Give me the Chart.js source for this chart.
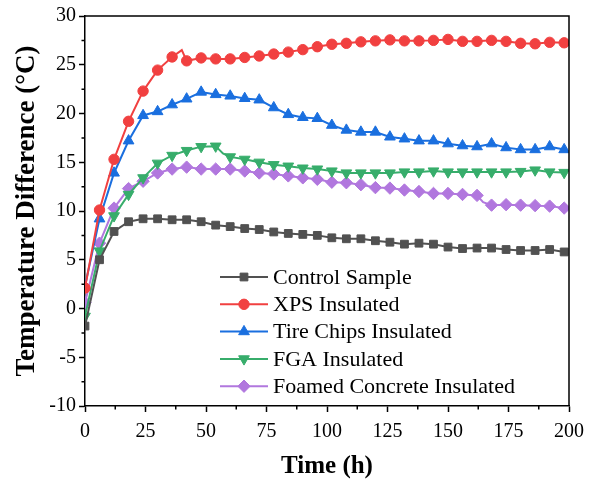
<!DOCTYPE html>
<html>
<head>
<meta charset="utf-8">
<script src="https://cdn.jsdelivr.net/npm/chart.js@4.4.0/dist/chart.umd.min.js"></script>
<style>
  html, body { margin: 0; padding: 0; background: #fff; }
</style>
</head>
<body>
<canvas id="chart" width="589" height="483"></canvas>
<script>
// time axis (h), a marker every 6 h
const hours = [0, 6, 12, 18, 24, 30, 36, 42, 48, 54, 60, 66, 72, 78, 84, 90, 96,
  102, 108, 114, 120, 126, 132, 138, 144, 150, 156, 162, 168, 174, 180, 186, 192, 198]

const control = [-1.8, 5.0, 7.9, 8.9, 9.2, 9.2, 9.1, 9.1, 8.9, 8.55, 8.4, 8.2, 8.1, 7.85, 7.7, 7.6, 7.5,
  7.25, 7.15, 7.15, 6.95, 6.8, 6.6, 6.7, 6.6, 6.3, 6.15, 6.2, 6.2, 6.05, 5.95, 5.95, 6.05, 5.8]
const xps = [2.1, 10.1, 15.3, 19.2, 22.3, 24.45, 25.8, 25.4, 25.7, 25.6, 25.6, 25.75, 25.9, 26.1, 26.3, 26.55, 26.85,
  27.1, 27.2, 27.35, 27.45, 27.55, 27.45, 27.45, 27.5, 27.6, 27.4, 27.4, 27.5, 27.4, 27.2, 27.15, 27.3, 27.25]
const tireChips = [2.3, 9.2, 13.9, 17.2, 19.8, 20.2, 20.9, 21.5, 22.2, 21.95, 21.8, 21.55, 21.4, 20.6, 19.9, 19.6, 19.5,
  18.8, 18.3, 18.1, 18.1, 17.6, 17.4, 17.2, 17.2, 16.9, 16.7, 16.6, 16.9, 16.5, 16.3, 16.3, 16.6, 16.3]
const fga = [-0.8, 5.9, 9.5, 11.7, 13.4, 14.9, 15.7, 16.2, 16.6, 16.65, 15.55, 15.3, 15.0, 14.75, 14.6, 14.4, 14.3,
  14.1, 13.9, 13.9, 13.9, 13.9, 14.0, 14.0, 14.1, 14.0, 14.0, 14.0, 14.0, 14.0, 14.05, 14.2, 14.0, 13.95]
const foamed = [0.6, 6.7, 10.3, 12.3, 13.05, 13.9, 14.3, 14.5, 14.3, 14.3, 14.3, 14.1, 13.9, 13.8, 13.6, 13.4, 13.25,
  12.95, 12.9, 12.7, 12.4, 12.35, 12.15, 12.0, 11.8, 11.8, 11.7, 11.6, 10.6, 10.65, 10.6, 10.55, 10.5, 10.3]

// in-between readings with no marker (spike / drops on the curves)
const xpsExtraHours = [40]
const xpsExtraValues = [26.5]
const fgaExtraHours = [57]
const fgaExtraValues = [15.9]
const foamedExtraHours = [164.5]
const foamedExtraValues = [10.9]

const seriesNames = ["Control Sample", "XPS Insulated", "Tire Chips Insulated", "FGA Insulated", "Foamed Concrete Insulated"]
const seriesColors = ["#515151", "#F14040", "#1A6FDF", "#37AD6B", "#B177DE"]

const FONT = "'Liberation Serif', 'Times New Roman', serif"

function makePoints(values, extraHours, extraValues) {
    let pts = hours.map((h, i) => ({ x: h, y: values[i] }))
    for (let i = 0; i < (extraHours || []).length; i++) {
        pts.push({ x: extraHours[i], y: extraValues[i] })
    }
    return pts.sort((a, b) => a.x - b.x)
}

const markers = [
    { style: "rect", rotation: 0, radius: 5.5 },
    { style: "circle", rotation: 0, radius: 5.2 },
    { style: "triangle", rotation: 0, radius: 6.2 },
    { style: "triangle", rotation: 180, radius: 6.2 },
    { style: "rectRot", rotation: 0, radius: 6.2 }
]

function makeDataset(i, points) {
    return {
        label: seriesNames[i],
        data: points,
        borderColor: seriesColors[i],
        backgroundColor: seriesColors[i],
        pointBackgroundColor: seriesColors[i],
        pointBorderColor: seriesColors[i],
        borderWidth: 2,
        pointStyle: markers[i].style,
        pointRotation: markers[i].rotation,
        pointRadius: (c) => (c.raw && c.raw.x % 6 === 0) ? markers[i].radius : 0,
        pointHoverRadius: 0,
        pointBorderWidth: 1,
        tension: 0
    }
}

// legend with line + marker inside the plot
const lineLegend = {
    id: "lineLegend",
    afterDatasetsDraw(chart) {
        const c = chart.ctx
        const area = chart.chartArea
        const x0 = area.left + 135
        const y0 = area.bottom - 129
        const rowH = 27.3
        chart.data.datasets.forEach((ds, i) => {
            const y = y0 + i * rowH
            c.save()
            c.strokeStyle = ds.borderColor
            c.lineWidth = 2
            c.beginPath()
            c.moveTo(x0, y)
            c.lineTo(x0 + 48, y)
            c.stroke()
            c.fillStyle = ds.backgroundColor
            c.lineWidth = 1
            Chart.helpers.drawPoint(c, {
                pointStyle: markers[i].style,
                rotation: markers[i].rotation,
                radius: markers[i].radius,
                borderWidth: 1
            }, x0 + 24, y)
            c.fillStyle = "#000"
            c.font = "22px " + FONT
            c.textBaseline = "middle"
            c.textAlign = "left"
            c.fillText(ds.label, x0 + 53, y + 1)
            c.restore()
        })
    }
}

// frame on top/right and minor ticks
const frameAndMinor = {
    id: "frameAndMinor",
    afterDraw(chart) {
        const c = chart.ctx
        const a = chart.chartArea
        const xs = chart.scales.x
        const ys = chart.scales.y
        c.save()
        c.strokeStyle = "#000"
        c.lineWidth = 1.5
        c.beginPath()
        c.moveTo(a.left, a.top)
        c.lineTo(a.right, a.top)
        c.lineTo(a.right, a.bottom)
        c.stroke()
        c.beginPath()
        for (let v = 12.5; v < 200; v += 25) {
            const px = xs.getPixelForValue(v)
            c.moveTo(px, a.bottom)
            c.lineTo(px, a.bottom + 3.5)
        }
        for (let v = -7.5; v < 30; v += 5) {
            const py = ys.getPixelForValue(v)
            c.moveTo(a.left, py)
            c.lineTo(a.left - 3.5, py)
        }
        c.stroke()
        c.restore()
    }
}

new Chart(document.getElementById("chart").getContext("2d"), {
    type: "line",
    data: {
        datasets: [
            makeDataset(0, makePoints(control)),
            makeDataset(1, makePoints(xps, xpsExtraHours, xpsExtraValues)),
            makeDataset(2, makePoints(tireChips)),
            makeDataset(3, makePoints(fga, fgaExtraHours, fgaExtraValues)),
            makeDataset(4, makePoints(foamed, foamedExtraHours, foamedExtraValues))
        ]
    },
    options: {
        responsive: false,
        animation: false,
        devicePixelRatio: 1,
        layout: { padding: { top: 16, right: 20, left: 0, bottom: 0 } },
        plugins: {
            legend: { display: false },
            tooltip: { enabled: false }
        },
        scales: {
            x: {
                type: "linear",
                min: 0,
                max: 200,
                afterFit: (s) => { s.height = 77; s.paddingLeft = 0; s.paddingRight = 0 },
                ticks: {
                    stepSize: 25,
                    color: "#000",
                    padding: 8,
                    maxRotation: 0,
                    font: { family: FONT, size: 20 }
                },
                grid: { drawOnChartArea: false, tickLength: 6, tickColor: "#000", tickWidth: 1.5 },
                border: { color: "#000", width: 1.5 },
                title: {
                    display: true,
                    text: "Time (h)",
                    color: "#000",
                    padding: { top: 0, bottom: 1 },
                    font: { family: FONT, size: 25, weight: "bold" }
                }
            },
            y: {
                min: -10,
                max: 30,
                afterFit: (s) => { s.width = 85 },
                ticks: {
                    stepSize: 5,
                    color: "#000",
                    padding: 3,
                    font: { family: FONT, size: 20 }
                },
                grid: { drawOnChartArea: false, tickLength: 6, tickColor: "#000", tickWidth: 1.5 },
                border: { color: "#000", width: 1.5 },
                title: {
                    display: true,
                    text: "Temperature Difference (°C)",
                    color: "#000",
                    padding: { top: 11, bottom: 0 },
                    font: { family: FONT, size: 27, weight: "bold" }
                }
            }
        }
    },
    plugins: [lineLegend, frameAndMinor]
})
</script>
</body>
</html>
